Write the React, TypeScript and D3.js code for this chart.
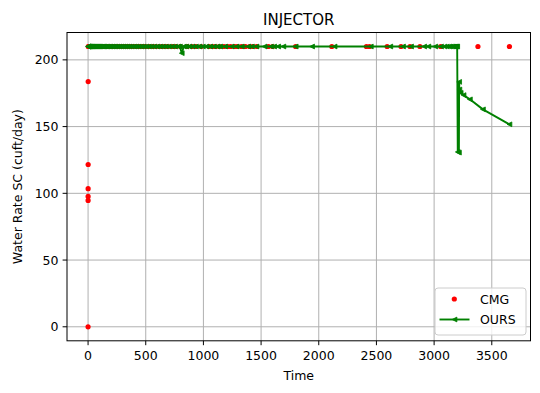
import React from "react";
import * as d3 from "d3";

const cmgTimes = [0, 0.2, 0.4, 0.6, 0.8, 1, 2, 5, 10, 15, 20, 25, 31, 40, 50, 59, 70, 80, 90, 100, 110, 120, 135, 150, 165, 181, 200, 212, 230, 243, 260, 273, 290, 304, 320, 334, 350, 365, 380, 396, 410, 425, 440, 456, 470, 486, 500, 530, 560, 588, 620, 645, 670, 693, 730, 760, 800, 861, 900, 933, 980, 1048, 1080, 1106, 1140, 1178, 1210, 1236, 1270, 1294, 1330, 1364, 1400, 1427, 1460, 1564, 1600, 1799, 2113, 2413, 2440, 2593, 2713, 2791, 2877, 3057, 3195, 3380, 3653];
const cmgRates = [0, 94.7, 97.7, 103.5, 121.6, 183.7, 210, 210, 210, 210, 210, 210, 210, 210, 210, 210, 210, 210, 210, 210, 210, 210, 210, 210, 210, 210, 210, 210, 210, 210, 210, 210, 210, 210, 210, 210, 210, 210, 210, 210, 210, 210, 210, 210, 210, 210, 210, 210, 210, 210, 210, 210, 210, 210, 210, 210, 210, 210, 210, 210, 210, 210, 210, 210, 210, 210, 210, 210, 210, 210, 210, 210, 210, 210, 210, 210, 210, 210, 210, 210, 210, 210, 210, 210, 210, 210, 210, 210, 210];

const oursTimes = [0, 1, 2, 4, 7, 10, 14, 18, 23, 28, 34, 40, 47, 54, 62, 70, 79, 88, 98, 108, 119, 130, 142, 154, 167, 180, 194, 208, 223, 238, 254, 270, 287, 304, 322, 340, 359, 378, 398, 418, 439, 460, 482, 504, 527, 550, 574, 598, 623, 648, 674, 700, 727, 754, 782, 796, 812, 830, 850, 878, 906, 935, 965, 995, 1026, 1058, 1090, 1120, 1144, 1187, 1245, 1288, 1332, 1389, 1420, 1460, 1530, 1585, 1613, 1648, 1693, 1800, 1942, 2137, 2451, 2620, 2730, 2800, 2914, 2950, 3010, 3060, 3090, 3110, 3130, 3145, 3160, 3170, 3180, 3188, 3195, 3200, 3205, 3215, 3217, 3219, 3230, 3255, 3310, 3423, 3653];
const oursRates = [210, 210, 210, 210, 210, 210, 210, 210, 210, 210, 210, 210, 210, 210, 210, 210, 210, 210, 210, 210, 210, 210, 210, 210, 210, 210, 210, 210, 210, 210, 210, 210, 210, 210, 210, 210, 210, 210, 210, 210, 210, 210, 210, 210, 210, 210, 210, 210, 210, 210, 210, 210, 210, 210, 210, 210, 205, 210, 210, 210, 210, 210, 210, 210, 210, 210, 210, 210, 210, 210, 210, 210, 210, 210, 210, 210, 210, 210, 210, 210, 210, 210, 210, 210, 210, 210, 210, 210, 210, 210, 210, 210, 210, 210, 210, 210, 210, 210, 210, 210, 210, 210, 131, 130.5, 183.5, 177.8, 175.3, 173.6, 170.4, 162.9, 151.7];

const xTicks = [0, 500, 1000, 1500, 2000, 2500, 3000, 3500];
const yTicks = [0, 50, 100, 150, 200];

const W = 540, H = 393;
const L = 67, R = 530.5, T = 32.5, B = 340.8;
const FONT = "DejaVu Sans, sans-serif";

export default function App() {
  const xmin = 0, xmax = 3653, ymin = 0, ymax = 210;
  const xpad = (xmax - xmin) * 0.05, ypad = (ymax - ymin) * 0.05;
  const x = d3.scaleLinear().domain([xmin - xpad, xmax + xpad]).range([L, R]);
  const y = d3.scaleLinear().domain([ymin - ypad, ymax + ypad]).range([B, T]);

  const cmg = cmgTimes.map((t, i) => [t, cmgRates[i]] as [number, number]);
  const ours = oursTimes.map((t, i) => [t, oursRates[i]] as [number, number]);
  const line = d3.line<[number, number]>().x(d => x(d[0])).y(d => y(d[1]));

  const tri = (cx: number, cy: number, s = 2.4) =>
    `M${cx - s},${cy} L${cx + s},${cy - s} L${cx + s},${cy + s} Z`;

  const green = "#008000";
  const red = "#ff0000";

  return (
    <svg width={W} height={H} style={{ display: "block", position: "absolute", left: 0, top: 0 }} fontFamily={FONT}>
      <rect x={0} y={0} width={W} height={H} fill="#fff" />
      <defs>
        <clipPath id="plotclip">
          <rect x={L} y={T} width={R - L} height={B - T} />
        </clipPath>
      </defs>
      {xTicks.map(t => (
        <line key={"gx" + t} x1={x(t)} x2={x(t)} y1={T} y2={B} stroke="#b0b0b0" strokeWidth={1} />
      ))}
      {yTicks.map(t => (
        <line key={"gy" + t} x1={L} x2={R} y1={y(t)} y2={y(t)} stroke="#b0b0b0" strokeWidth={1} />
      ))}
      <g clipPath="url(#plotclip)">
        {cmg.map((d, i) => (
          <circle key={"c" + i} cx={x(d[0])} cy={y(d[1])} r={2.6} fill={red} />
        ))}
        <path d={line(ours) || ""} fill="none" stroke={green} strokeWidth={1.9} strokeLinejoin="round" />
        {ours.map((d, i) => (
          <path key={"o" + i} d={tri(x(d[0]), y(d[1]))} fill={green} stroke={green} strokeWidth={0.8} />
        ))}
      </g>
      <rect x={L} y={T} width={R - L} height={B - T} fill="none" stroke="#000" strokeWidth={1} />
      {xTicks.map(t => (
        <g key={"xt" + t}>
          <line x1={x(t)} x2={x(t)} y1={B} y2={B + 4.4} stroke="#000" strokeWidth={1} />
          <text x={x(t)} y={B + 19} fontSize={12.5} textAnchor="middle" fill="#000">{t}</text>
        </g>
      ))}
      {yTicks.map(t => (
        <g key={"yt" + t}>
          <line x1={L - 4.4} x2={L} y1={y(t)} y2={y(t)} stroke="#000" strokeWidth={1} />
          <text x={L - 8.5} y={y(t)} dy="0.36em" fontSize={12.5} textAnchor="end" fill="#000">{t}</text>
        </g>
      ))}
      <text x={(L + R) / 2} y={25} fontSize={15} textAnchor="middle" fill="#000">INJECTOR</text>
      <text x={(L + R) / 2} y={380} fontSize={12.5} textAnchor="middle" fill="#000">Time</text>
      <text transform={`translate(22,${(T + B) / 2}) rotate(-90)`} fontSize={12.5} textAnchor="middle" fill="#000">Water Rate SC (cuft/day)</text>
      <g>
        <rect x={435} y={288} width={91} height={47} rx={3} fill="#fff" fillOpacity={0.8} stroke="#cccccc" strokeWidth={1} />
        <circle cx={454.3} cy={299} r={2.6} fill={red} />
        <text x={480} y={299} dy="0.36em" fontSize={12.5} fill="#000">CMG</text>
        <line x1={439.5} x2={469.5} y1={319.5} y2={319.5} stroke={green} strokeWidth={1.9} />
        <path d={tri(454.5, 319.5)} fill={green} stroke={green} strokeWidth={0.8} />
        <text x={480} y={319.5} dy="0.36em" fontSize={12.5} fill="#000">OURS</text>
      </g>
    </svg>
  );
}
